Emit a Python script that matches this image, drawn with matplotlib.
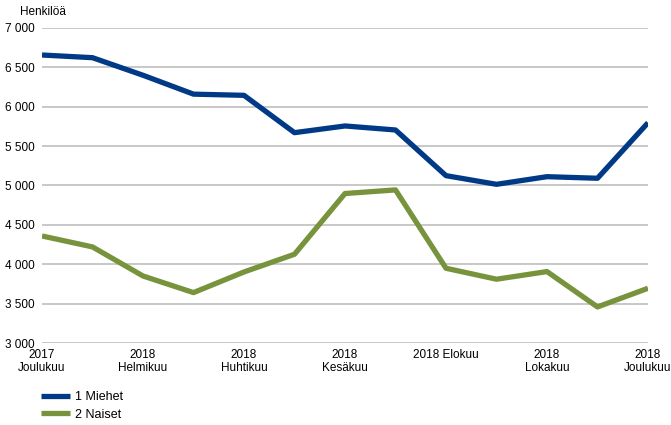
import numpy as np
import matplotlib
matplotlib.use("Agg")
import matplotlib.pyplot as plt

plt.rcParams['font.family'] = ['Liberation Sans', 'DejaVu Sans']

# Kuukaudet joulukuu 2017 - joulukuu 2018
kuukaudet = list(range(13))
tick_pos = [0, 2, 4, 6, 8, 10, 12]
tick_labels = ["2017\nJoulukuu", "2018\nHelmikuu", "2018\nHuhtikuu", "2018\nKesäkuu",
               "2018 Elokuu\n", "2018\nLokakuu", "2018\nJoulukuu"]

miehet = [6657, 6623, 6400, 6160, 6145, 5671, 5756, 5705, 5125, 5015, 5112, 5092, 5797]
naiset = [4359, 4220, 3851, 3640, 3902, 4127, 4898, 4944, 3949, 3810, 3907, 3458, 3695]

y_ticks = [3000, 3500, 4000, 4500, 5000, 5500, 6000, 6500, 7000]

fig = plt.figure(figsize=(6.71, 4.25), dpi=100)
ax = fig.add_axes([42/671, 1-343/425, (648-42)/671, (343-28)/425])

ax.plot(kuukaudet, miehet, color="#003A87", lw=3.8, label="1 Miehet", solid_capstyle="butt", zorder=3)
ax.plot(kuukaudet, naiset, color="#77933C", lw=3.8, label="2 Naiset", solid_capstyle="butt", zorder=3)

ax.set_xlim(0, 12)
ax.set_ylim(3000, 7000)
ax.set_yticks(y_ticks)
ax.set_yticklabels([f"{v:,}".replace(",", " ") for v in y_ticks], fontsize=8.5)
ax.set_xticks(tick_pos)
ax.set_xticklabels(tick_labels, fontsize=8.5, linespacing=1.15)
ax.tick_params(axis="both", length=0)
ax.tick_params(axis="y", pad=5)
ax.tick_params(axis="x", pad=4)

ax.grid(axis="y", color="#BFBFBF", lw=1.2)
ax.set_axisbelow(True)
for s in ax.spines.values():
    s.set_visible(False)

fig.text(20/671, 1-12/425, "Henkilöä", fontsize=8.5, va="center", ha="left")

fig.legend(loc="upper left", bbox_to_anchor=(41/671, 1-391/425), frameon=False,
           fontsize=9, handlelength=2.3, handletextpad=0.4, labelspacing=0.45,
           borderpad=0, borderaxespad=0)

fig.savefig("out.png", dpi=100)
